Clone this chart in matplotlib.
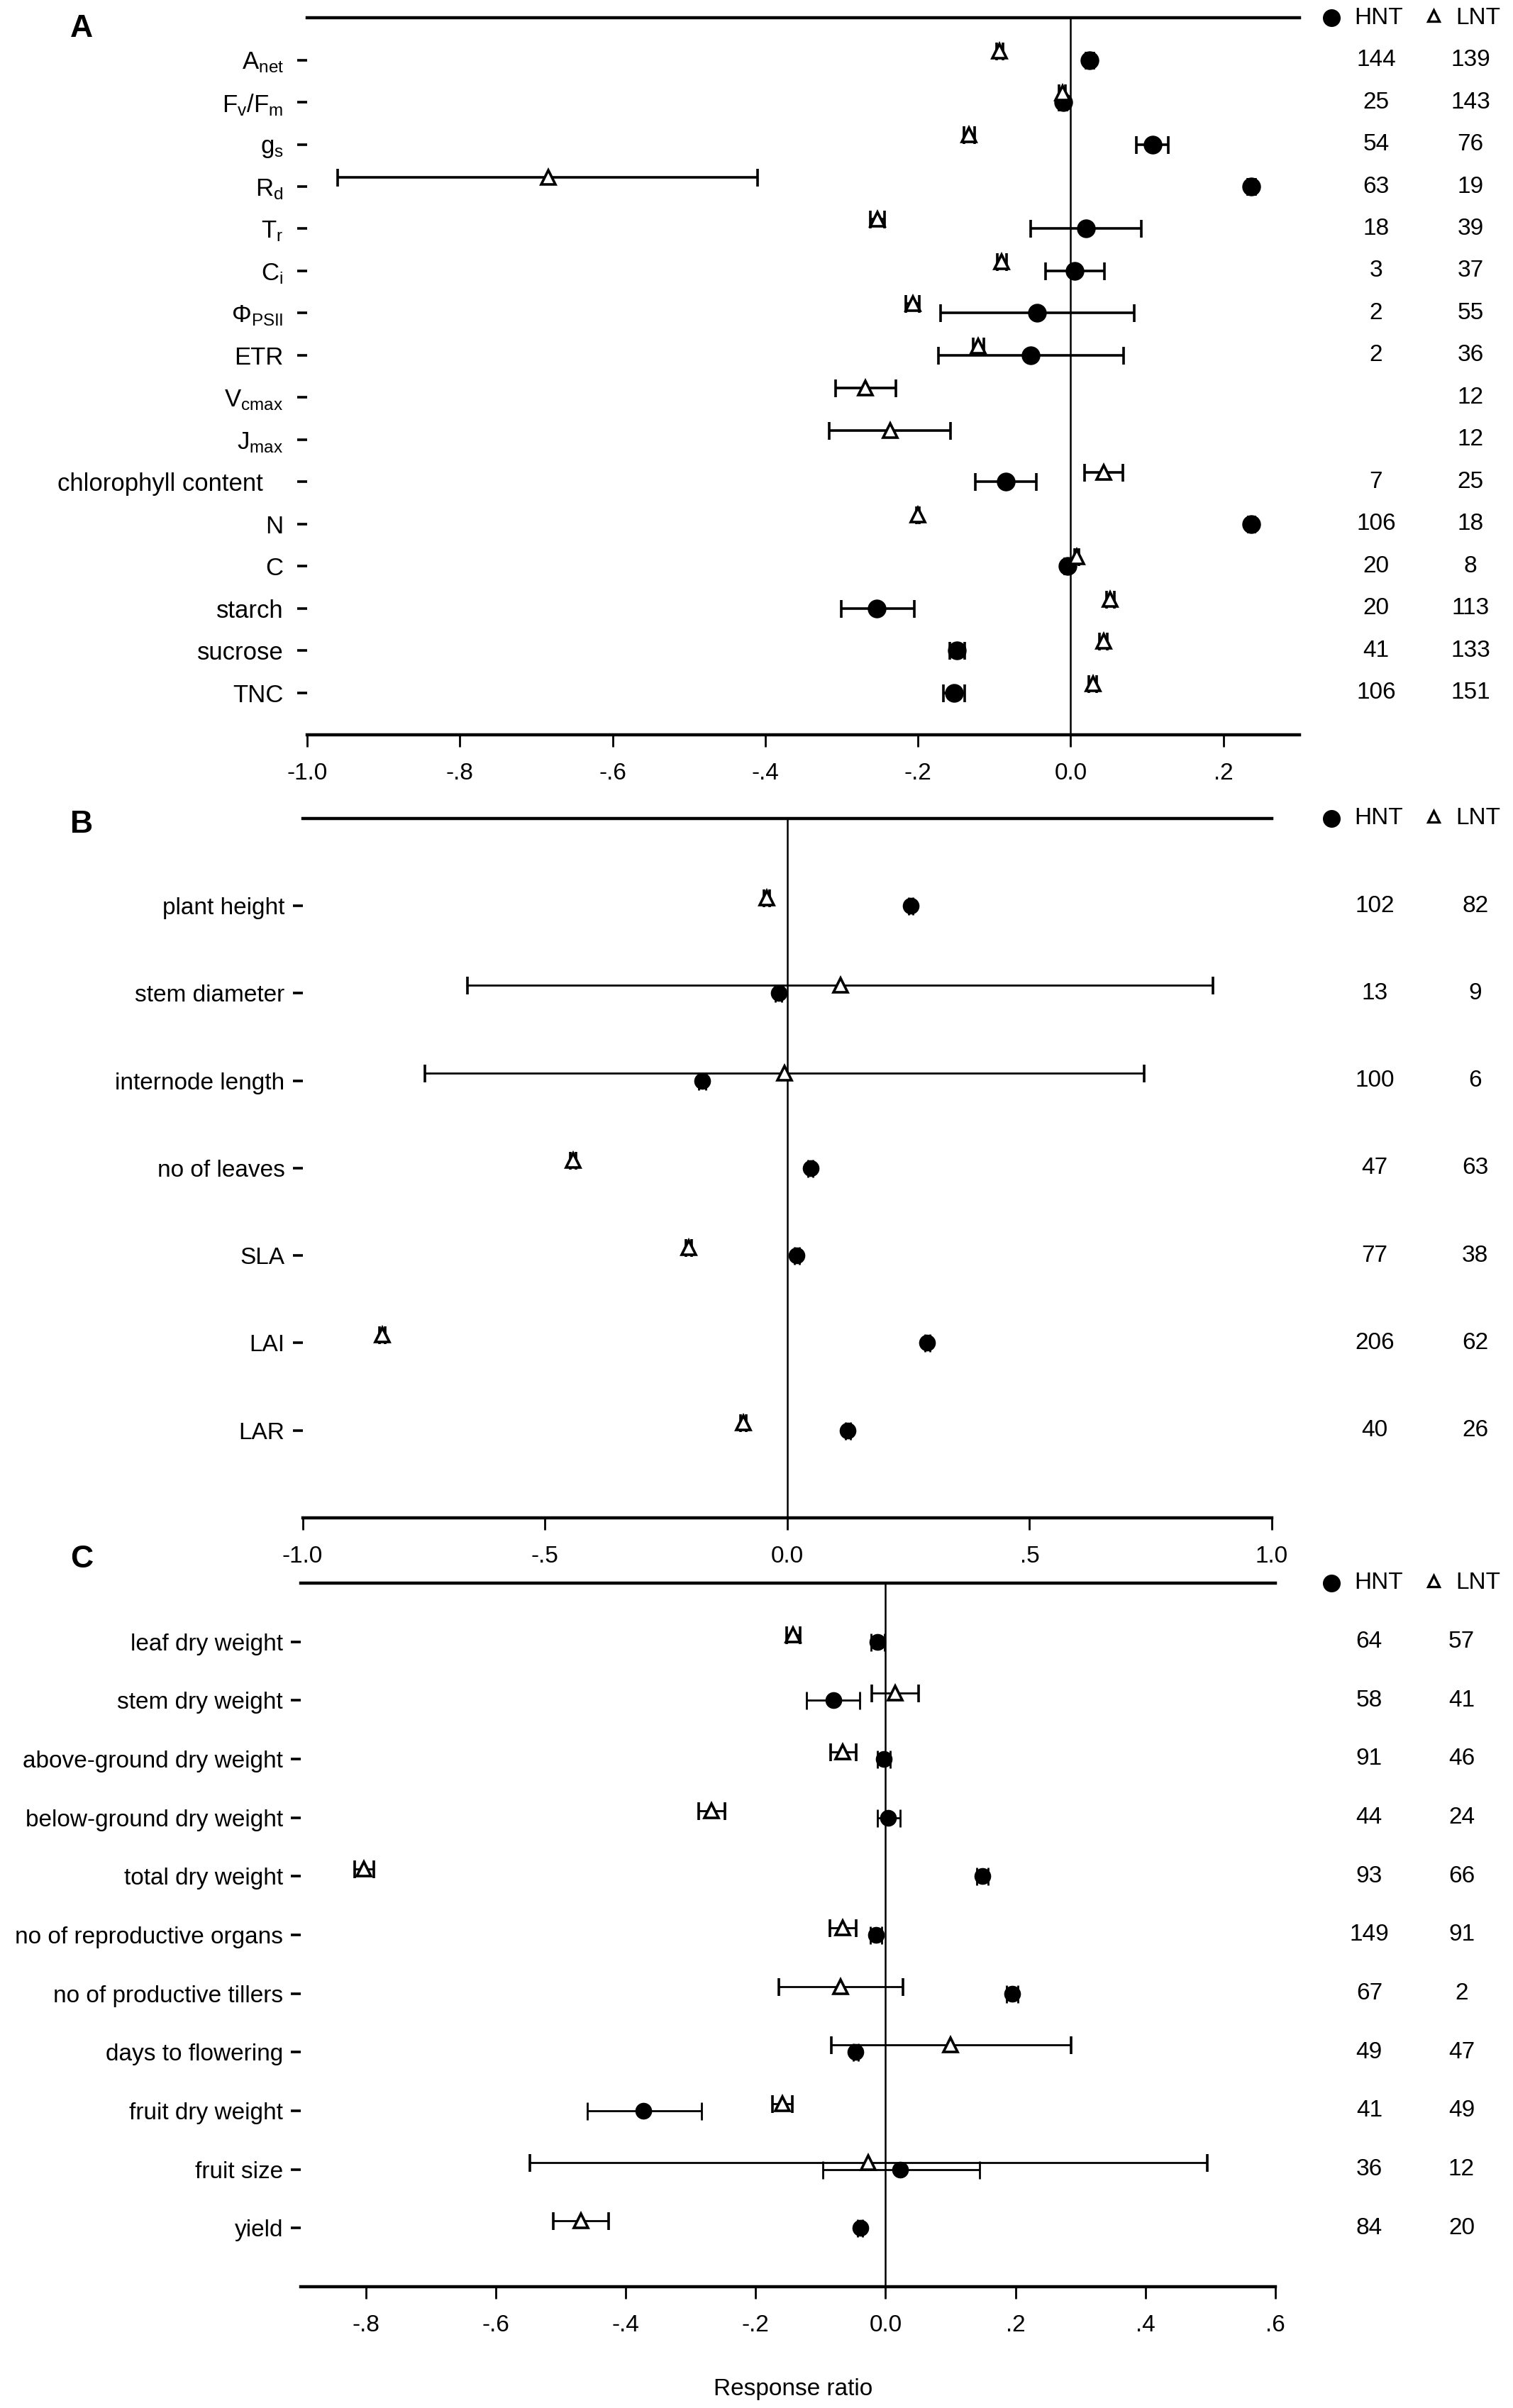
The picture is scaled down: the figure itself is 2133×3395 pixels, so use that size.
import numpy as np
import matplotlib
matplotlib.use("Agg")
from matplotlib import pyplot as plt
from matplotlib import transforms

plt.rcParams['font.family'] = ['Liberation Sans', 'DejaVu Sans']
plt.rcParams['mathtext.fontset'] = 'custom'
plt.rcParams['mathtext.rm'] = 'Liberation Sans'
plt.rcParams['mathtext.it'] = 'Liberation Sans'
plt.rcParams['mathtext.default'] = 'regular'

nan = np.nan

# panel A - physiology
labels_a = [r'$A_{net}$', r'$F_v/F_m$', r'$g_s$', r'$R_d$', r'$T_r$', r'$C_i$',
            r'$\Phi_{PSII}$', 'ETR', r'$V_{cmax}$', r'$J_{max}$',
            'chlorophyll content   ', 'N', 'C', 'starch', 'sucrose', 'TNC']
hnt_a = [0.025, -0.010, 0.107, 0.237, 0.020, 0.005, -0.044, -0.052, nan, nan,
         -0.085, 0.237, -0.004, -0.254, -0.149, -0.153]
hnt_a_lo = [0.020, -0.015, 0.086, 0.232, -0.052, -0.033, -0.170, -0.173, nan, nan,
            -0.125, 0.233, -0.008, -0.300, -0.158, -0.167]
hnt_a_hi = [0.030, -0.005, 0.128, 0.242, 0.093, 0.044, 0.083, 0.069, nan, nan,
            -0.045, 0.241, 0.000, -0.205, -0.139, -0.139]
lnt_a = [-0.093, -0.011, -0.133, -0.684, -0.253, -0.090, -0.207, -0.121, -0.269, -0.236,
         0.043, -0.200, 0.008, 0.052, 0.043, 0.029]
lnt_a_lo = [-0.097, -0.015, -0.140, -0.960, -0.262, -0.096, -0.216, -0.128, -0.308, -0.316,
            0.018, -0.202, 0.005, 0.047, 0.038, 0.024]
lnt_a_hi = [-0.089, -0.007, -0.126, -0.410, -0.244, -0.084, -0.198, -0.114, -0.229, -0.157,
            0.068, -0.198, 0.011, 0.057, 0.048, 0.034]
n_hnt_a = ['144', '25', '54', '63', '18', '3', '2', '2', '', '', '7', '106', '20', '20', '41', '106']
n_lnt_a = ['139', '143', '76', '19', '39', '37', '55', '36', '12', '12', '25', '18', '8', '113', '133', '151']
ticks_a = [-1.0, -0.8, -0.6, -0.4, -0.2, 0.0, 0.2]

# panel B - morphology
labels_b = ['plant height', 'stem diameter', 'internode length', 'no of leaves', 'SLA', 'LAI', 'LAR']
hnt_b = [0.255, -0.018, -0.175, 0.048, 0.020, 0.289, 0.125]
hnt_b_lo = [0.250, -0.025, -0.182, 0.043, 0.015, 0.284, 0.120]
hnt_b_hi = [0.260, -0.011, -0.168, 0.053, 0.025, 0.294, 0.130]
lnt_b = [-0.042, 0.110, -0.006, -0.442, -0.203, -0.835, -0.090]
lnt_b_lo = [-0.048, -0.660, -0.747, -0.448, -0.209, -0.841, -0.096]
lnt_b_hi = [-0.036, 0.878, 0.737, -0.436, -0.197, -0.829, -0.084]
n_hnt_b = ['102', '13', '100', '47', '77', '206', '40']
n_lnt_b = ['82', '9', '6', '63', '38', '62', '26']
ticks_b = [-1.0, -0.5, 0.0, 0.5, 1.0]

# panel C - biomass and yield
labels_c = ['leaf dry weight', 'stem dry weight', 'above-ground dry weight',
            'below-ground dry weight', 'total dry weight', 'no of reproductive organs',
            'no of productive tillers', 'days to flowering', 'fruit dry weight',
            'fruit size', 'yield']
hnt_c = [-0.012, -0.080, -0.003, 0.004, 0.149, -0.015, 0.195, -0.046, -0.373, 0.022, -0.039]
hnt_c_lo = [-0.022, -0.122, -0.013, -0.013, 0.140, -0.024, 0.186, -0.050, -0.459, -0.097, -0.043]
hnt_c_hi = [-0.002, -0.040, 0.007, 0.022, 0.158, -0.006, 0.204, -0.042, -0.283, 0.145, -0.035]
lnt_c = [-0.142, 0.015, -0.066, -0.268, -0.803, -0.066, -0.069, 0.100, -0.159, -0.027, -0.469]
lnt_c_lo = [-0.152, -0.021, -0.085, -0.288, -0.817, -0.086, -0.164, -0.083, -0.174, -0.547, -0.511]
lnt_c_hi = [-0.132, 0.051, -0.045, -0.247, -0.788, -0.045, 0.027, 0.285, -0.143, 0.495, -0.426]
n_hnt_c = ['64', '58', '91', '44', '93', '149', '67', '49', '41', '36', '84']
n_lnt_c = ['57', '41', '46', '24', '66', '91', '2', '47', '49', '12', '20']
ticks_c = [-0.8, -0.6, -0.4, -0.2, 0.0, 0.2, 0.4, 0.6]


def fmt(v):
    s = "%.1f" % v
    if abs(v) < 1 and v != 0:
        s = s.replace("0.", ".")
    return s


def panel(fig, rect, letter, labels, hnt, hlo, hhi, lnt, llo, lhi, nh, nl,
          xlim, ticks, off, msize, elw, count_x, letter_y, lab_fs, lab_pad):
    ax = fig.add_axes(rect)
    n = len(labels)
    y = np.arange(1, n + 1)
    hnt = np.array(hnt); lnt = np.array(lnt)
    herr = [hnt - np.array(hlo), np.array(hhi) - hnt]
    lerr = [lnt - np.array(llo), np.array(lhi) - lnt]

    ax.axvline(0, color='black', lw=0.9, zorder=1)
    ax.errorbar(hnt, y, xerr=herr, fmt='o', color='black', ms=msize,
                elinewidth=elw, capsize=4.5, capthick=elw, zorder=3)
    ax.errorbar(lnt, y - off, xerr=lerr, fmt='^', color='black', mfc='white',
                mec='black', mew=1.3, ms=7, elinewidth=elw, capsize=4.5,
                capthick=elw, zorder=4)

    ax.set_xlim(xlim)
    ax.set_ylim(n + 1, 0)
    ax.set_yticks(y)
    ax.set_yticklabels(labels, fontsize=lab_fs)
    ax.set_xticks(ticks)
    ax.set_xticklabels([fmt(t) for t in ticks], fontsize=12)
    ax.tick_params(axis='y', length=5, width=1.3, pad=lab_pad)
    ax.tick_params(axis='x', length=6, width=1.0, pad=8)
    ax.spines['left'].set_visible(False)
    ax.spines['right'].set_visible(False)
    ax.spines['top'].set_linewidth(1.6)
    ax.spines['bottom'].set_linewidth(1.6)

    tr = transforms.blended_transform_factory(fig.transFigure, ax.transData)
    for yy, a, b in zip(y, nh, nl):
        ax.text(count_x[0], yy, a, transform=tr, ha='center', va='center', fontsize=12)
        ax.text(count_x[1], yy, b, transform=tr, ha='center', va='center', fontsize=12)

    # legend drawn beside the top line
    lt = transforms.blended_transform_factory(fig.transFigure, ax.transAxes)
    ax.plot([0.880], [1.0], 'o', color='black', ms=8, transform=lt, clip_on=False)
    ax.text(0.895, 1.0, 'HNT', transform=lt, ha='left', va='center', fontsize=12)
    ax.plot([0.9475], [1.003], '^', color='black', mfc='white', ms=6, mew=1.2,
            transform=lt, clip_on=False)
    ax.text(0.962, 1.0, 'LNT', transform=lt, ha='left', va='center', fontsize=12)

    fig.text(0.054, letter_y, letter, fontsize=16, fontweight='bold',
             ha='center', va='center')
    return ax


fig = plt.figure(figsize=(10.665, 16.975), dpi=200)

panel(fig, [0.203, 0.6948, 0.656, 0.2978], 'A', labels_a, hnt_a, hnt_a_lo, hnt_a_hi,
      lnt_a, lnt_a_lo, lnt_a_hi, n_hnt_a, n_lnt_a, (-1.0, 0.3), ticks_a, 0.22, 8.5, 1.3,
      (0.9095, 0.972), 0.988, 12.5, 7)
panel(fig, [0.200, 0.3697, 0.6406, 0.2904], 'B', labels_b, hnt_b, hnt_b_lo, hnt_b_hi,
      lnt_b, lnt_b_lo, lnt_b_hi, n_hnt_b, n_lnt_b, (-1.0, 1.0), ticks_b, 0.09, 7.5, 1.0,
      (0.9086, 0.975), 0.6577, 12, 4)
panel(fig, [0.1988, 0.0504, 0.6442, 0.2922], 'C', labels_c, hnt_c, hnt_c_lo, hnt_c_hi,
      lnt_c, lnt_c_lo, lnt_c_hi, n_hnt_c, n_lnt_c, (-0.9, 0.6), ticks_c, 0.12, 7.5, 1.0,
      (0.905, 0.966), 0.3523, 12, 4)

fig.text(0.524, 0.0077, 'Response ratio', fontsize=12, ha='center', va='center')

fig.savefig('out.png', dpi=200)
